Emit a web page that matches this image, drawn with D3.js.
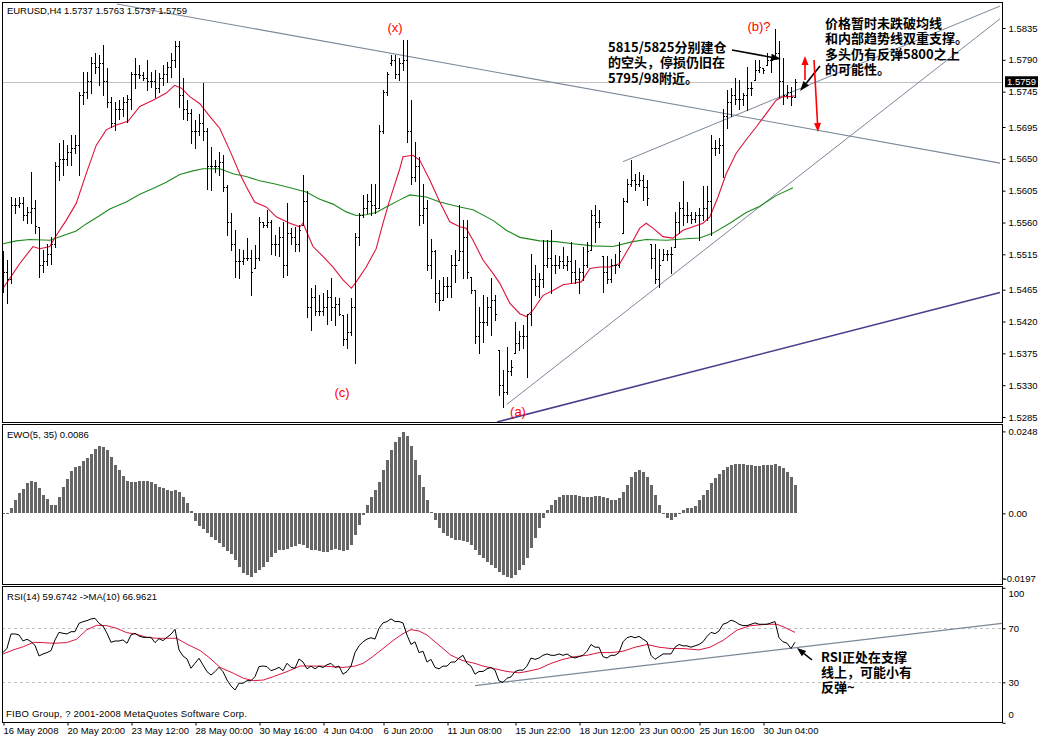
<!DOCTYPE html>
<html><head><meta charset="utf-8">
<script src="https://cdn.jsdelivr.net/npm/d3@7"></script>
<style>
body{margin:0;background:#fff}
svg{display:block}
text{font-family:"Liberation Sans",Arial,sans-serif;font-size:9.5px;fill:#000}
.cn{font-family:"Noto Sans CJK SC",sans-serif;font-weight:700;font-size:13px}
.lbl{font-size:13px;fill:#ff0000}
</style></head><body>
<svg id="c" width="1040" height="739"></svg>
<script>
// ---------- DATA ----------
const openP=[1.5500,1.5490,1.5480,1.5585,1.5585,1.5588,1.5570,1.5575,1.5580,1.5554,
1.5500,1.5505,1.5515,1.5530,1.5640,1.5650,1.5650,1.5660,1.5665,1.5670,
1.5740,1.5745,1.5760,1.5785,1.5780,1.5785,1.5760,1.5730,1.5700,1.5720,
1.5720,1.5730,1.5735,1.5770,1.5770,1.5768,1.5765,1.5760,1.5760,1.5750,
1.5765,1.5770,1.5780,1.5790,1.5810,1.5740,1.5720,1.5715,1.5690,1.5690,
1.5700,1.5690,1.5640,1.5640,1.5640,1.5645,1.5610,1.5560,1.5530,1.5505,
1.5505,1.5510,1.5510,1.5495,1.5510,1.5560,1.5556,1.5560,1.5530,1.5530,
1.5540,1.5500,1.5545,1.5540,1.5530,1.5556,1.5590,1.5440,1.5455,1.5435,
1.5435,1.5440,1.5455,1.5440,1.5445,1.5429,1.5395,1.5405,1.5440,1.5540,
1.5570,1.5580,1.5590,1.5585,1.5580,1.5690,1.5745,1.5785,1.5790,1.5770,
1.5785,1.5790,1.5690,1.5625,1.5640,1.5570,1.5580,1.5500,1.5520,1.5460,
1.5450,1.5470,1.5470,1.5500,1.5507,1.5520,1.5540,1.5483,1.5464,1.5400,
1.5420,1.5420,1.5440,1.5450,1.5380,1.5330,1.5320,1.5350,1.5375,1.5390,
1.5400,1.5400,1.5430,1.5480,1.5470,1.5480,1.5500,1.5510,1.5500,1.5500,
1.5505,1.5500,1.5505,1.5490,1.5480,1.5490,1.5500,1.5521,1.5570,1.5560,
1.5512,1.5490,1.5480,1.5500,1.5500,1.5545,1.5590,1.5615,1.5620,1.5615,
1.5620,1.5610,1.5530,1.5510,1.5480,1.5507,1.5515,1.5515,1.5526,1.5560,
1.5580,1.5570,1.5570,1.5565,1.5570,1.5570,1.5580,1.5590,1.5665,1.5665,
1.5670,1.5710,1.5730,1.5740,1.5735,1.5735,1.5740,1.5750,1.5761,1.5775,
1.5778,1.5783,1.5790,1.5792,1.5800,1.5760,1.5740,1.5745,1.5737];
const highP=[1.5519,1.5507,1.5596,1.5594,1.5596,1.5596,1.5582,1.5632,1.5592,1.5554,
1.5521,1.5530,1.5540,1.5646,1.5672,1.5677,1.5670,1.5684,1.5684,1.5745,
1.5773,1.5773,1.5794,1.5799,1.5797,1.5811,1.5778,1.5738,1.5731,1.5733,
1.5738,1.5740,1.5773,1.5792,1.5783,1.5773,1.5790,1.5773,1.5776,1.5771,
1.5783,1.5787,1.5799,1.5816,1.5816,1.5764,1.5733,1.5721,1.5705,1.5714,
1.5757,1.5693,1.5667,1.5648,1.5660,1.5655,1.5613,1.5573,1.5549,1.5523,
1.5521,1.5538,1.5521,1.5528,1.5568,1.5561,1.5578,1.5563,1.5542,1.5554,
1.5561,1.5587,1.5552,1.5554,1.5556,1.5627,1.5604,1.5467,1.5472,1.5457,
1.5460,1.5464,1.5481,1.5455,1.5453,1.5429,1.5431,1.5453,1.5545,1.5573,
1.5599,1.5601,1.5615,1.5615,1.5698,1.5747,1.5773,1.5797,1.5797,1.5792,
1.5818,1.5818,1.5733,1.5674,1.5653,1.5615,1.5592,1.5537,1.5521,1.5479,
1.5483,1.5483,1.5514,1.5521,1.5585,1.5563,1.5563,1.5483,1.5464,1.5441,
1.5457,1.5455,1.5481,1.5457,1.5380,1.5351,1.5384,1.5365,1.5420,1.5406,
1.5415,1.5431,1.5516,1.5500,1.5488,1.5535,1.5535,1.5549,1.5514,1.5512,
1.5526,1.5512,1.5533,1.5507,1.5495,1.5526,1.5533,1.5578,1.5585,1.5578,
1.5512,1.5512,1.5509,1.5516,1.5533,1.5594,1.5622,1.5648,1.5629,1.5632,
1.5627,1.5620,1.5530,1.5530,1.5523,1.5523,1.5521,1.5526,1.5575,1.5589,
1.5618,1.5589,1.5575,1.5575,1.5580,1.5611,1.5611,1.5684,1.5677,1.5679,
1.5721,1.5747,1.5750,1.5764,1.5761,1.5743,1.5780,1.5759,1.5790,1.5790,
1.5778,1.5799,1.5794,1.5834,1.5816,1.5792,1.5754,1.5752,1.5763];
const lowP=[1.5462,1.5446,1.5474,1.5573,1.5582,1.5563,1.5559,1.5559,1.5545,1.5483,
1.5490,1.5500,1.5502,1.5526,1.5620,1.5627,1.5641,1.5641,1.5658,1.5627,
1.5728,1.5736,1.5743,1.5771,1.5754,1.5740,1.5724,1.5695,1.5691,1.5707,
1.5710,1.5702,1.5721,1.5750,1.5764,1.5761,1.5747,1.5752,1.5738,1.5745,
1.5754,1.5759,1.5766,1.5780,1.5724,1.5707,1.5705,1.5672,1.5665,1.5684,
1.5677,1.5608,1.5606,1.5632,1.5627,1.5604,1.5542,1.5521,1.5483,1.5481,
1.5502,1.5507,1.5457,1.5495,1.5507,1.5554,1.5554,1.5516,1.5514,1.5512,
1.5483,1.5486,1.5530,1.5519,1.5519,1.5556,1.5427,1.5408,1.5429,1.5429,
1.5429,1.5417,1.5422,1.5415,1.5429,1.5387,1.5382,1.5401,1.5361,1.5528,
1.5568,1.5573,1.5570,1.5573,1.5580,1.5686,1.5740,1.5783,1.5764,1.5761,
1.5776,1.5674,1.5615,1.5618,1.5556,1.5559,1.5493,1.5481,1.5448,1.5436,
1.5450,1.5455,1.5455,1.5476,1.5507,1.5481,1.5481,1.5460,1.5389,1.5375,
1.5391,1.5415,1.5401,1.5422,1.5316,1.5299,1.5318,1.5344,1.5375,1.5380,
1.5382,1.5342,1.5415,1.5457,1.5455,1.5469,1.5497,1.5460,1.5488,1.5495,
1.5495,1.5493,1.5474,1.5474,1.5460,1.5479,1.5497,1.5521,1.5533,1.5554,
1.5462,1.5474,1.5476,1.5488,1.5497,1.5545,1.5589,1.5611,1.5606,1.5611,
1.5592,1.5585,1.5495,1.5474,1.5469,1.5507,1.5507,1.5488,1.5526,1.5545,
1.5556,1.5561,1.5559,1.5561,1.5535,1.5563,1.5563,1.5542,1.5655,1.5658,
1.5625,1.5693,1.5710,1.5728,1.5721,1.5726,1.5719,1.5740,1.5761,1.5773,
1.5771,1.5783,1.5773,1.5792,1.5738,1.5728,1.5736,1.5726,1.5737];
const closeP=[1.5490,1.5480,1.5585,1.5585,1.5588,1.5570,1.5575,1.5580,1.5555,1.5500,
1.5505,1.5515,1.5530,1.5640,1.5650,1.5650,1.5660,1.5665,1.5670,1.5740,
1.5745,1.5760,1.5785,1.5780,1.5785,1.5760,1.5730,1.5700,1.5720,1.5720,
1.5730,1.5735,1.5770,1.5770,1.5768,1.5765,1.5760,1.5760,1.5750,1.5765,
1.5770,1.5780,1.5790,1.5810,1.5740,1.5720,1.5715,1.5690,1.5690,1.5700,
1.5690,1.5640,1.5640,1.5640,1.5645,1.5610,1.5560,1.5530,1.5505,1.5505,
1.5510,1.5510,1.5490,1.5510,1.5560,1.5556,1.5560,1.5530,1.5530,1.5540,
1.5500,1.5545,1.5540,1.5530,1.5550,1.5590,1.5440,1.5455,1.5435,1.5435,
1.5440,1.5455,1.5440,1.5445,1.5430,1.5395,1.5405,1.5440,1.5540,1.5570,
1.5580,1.5590,1.5585,1.5580,1.5690,1.5745,1.5770,1.5790,1.5770,1.5785,
1.5790,1.5690,1.5625,1.5640,1.5570,1.5580,1.5500,1.5520,1.5460,1.5450,
1.5470,1.5470,1.5500,1.5500,1.5520,1.5540,1.5490,1.5465,1.5400,1.5420,
1.5420,1.5440,1.5450,1.5430,1.5330,1.5320,1.5350,1.5355,1.5390,1.5400,
1.5400,1.5430,1.5480,1.5470,1.5480,1.5500,1.5510,1.5500,1.5500,1.5505,
1.5500,1.5505,1.5490,1.5480,1.5490,1.5500,1.5520,1.5570,1.5560,1.5560,
1.5490,1.5480,1.5500,1.5500,1.5520,1.5590,1.5615,1.5620,1.5615,1.5620,
1.5610,1.5595,1.5510,1.5480,1.5500,1.5515,1.5515,1.5515,1.5560,1.5580,
1.5570,1.5570,1.5565,1.5570,1.5570,1.5580,1.5590,1.5665,1.5665,1.5670,
1.5710,1.5730,1.5740,1.5735,1.5735,1.5740,1.5750,1.5750,1.5775,1.5780,
1.5775,1.5790,1.5790,1.5800,1.5760,1.5740,1.5745,1.5737,1.5759];
// moving averages on price: [bar index, value]
const maFast=[[0,1.5467],[1.7,1.5481],[4.2,1.5502],[7.5,1.5526],[9.2,1.5523],[11.7,1.5526],[12.9,1.5538],[15.8,1.5563],[18.3,1.5587],[20.8,1.5629],[23.3,1.5669],[25.8,1.5691],[28.3,1.5698],[31.25,1.5703],[34.2,1.5724],[37.5,1.5733],[40.8,1.5743],[42.9,1.5754],[44.6,1.5750],[46.7,1.5738],[49.2,1.5728],[51.7,1.5710],[54.2,1.5693],[56.7,1.5662],[59.2,1.5629],[60.8,1.5611],[62.9,1.5589],[65.8,1.5582],[68.3,1.5568],[71.7,1.5559],[74.2,1.5554],[75,1.5559],[77.5,1.5526],[80,1.5512],[82.5,1.5497],[85,1.5479],[87.1,1.5467],[88.3,1.5476],[90.8,1.5497],[93.3,1.5523],[95,1.5559],[96.7,1.5592],[99.2,1.5636],[100,1.5653],[102.5,1.5655],[104.2,1.5648],[106.7,1.5620],[109.2,1.5589],[111.7,1.5561],[114.2,1.5554],[115.8,1.5552],[117.5,1.5535],[120,1.5507],[122.5,1.5488],[124.2,1.5474],[126.7,1.5446],[129.2,1.5431],[130.8,1.5427],[132.5,1.5436],[135,1.5457],[137.5,1.5464],[140,1.5472],[142.5,1.5474],[144.6,1.5476],[146.7,1.5495],[149.2,1.5497],[151.7,1.5497],[154.2,1.5502],[156.7,1.5526],[159.2,1.5552],[160.8,1.5559],[162.5,1.5552],[165,1.5540],[167.5,1.5538],[170,1.5549],[172.5,1.5554],[175,1.5559],[176.7,1.5568],[178.75,1.5596],[180.8,1.5629],[183.3,1.5658],[185.8,1.5677],[188.3,1.5695],[190.8,1.5714],[193.3,1.5733],[195,1.5738],[196.7,1.5738],[197.9,1.5739]];
const maSlow=[[0,1.5530],[3.3,1.5534],[6.7,1.5536],[11.7,1.5535],[14.2,1.5540],[18.3,1.5548],[20.8,1.5558],[24.2,1.5570],[26.7,1.5579],[30.8,1.5589],[34.2,1.5600],[37.5,1.5608],[40.8,1.5617],[44.2,1.5628],[47.5,1.5633],[50,1.5636],[54.2,1.5636],[57.5,1.5629],[60.8,1.5625],[64.2,1.5619],[68.3,1.5614],[72.5,1.5608],[75.8,1.5603],[79.2,1.5593],[82.5,1.5586],[85.8,1.5575],[88.3,1.5570],[90.8,1.5571],[93.3,1.5574],[95.8,1.5582],[99.2,1.5592],[101.7,1.5599],[105.8,1.5596],[109.2,1.5589],[114.2,1.5582],[117.5,1.5578],[122.5,1.5563],[125.8,1.5549],[129.2,1.5539],[134.2,1.5534],[138.3,1.5533],[142.5,1.5530],[147.5,1.5527],[152.5,1.5526],[157.5,1.5533],[160.8,1.5536],[165.8,1.5535],[170.8,1.5537],[174.2,1.5538],[177.5,1.5545],[181.7,1.5559],[185.8,1.5574],[189.2,1.5583],[193.3,1.5598],[197.5,1.5609]];
const ewo=[0.0001,0.0002,0.0015,0.0040,0.0063,0.0074,0.0091,0.0098,0.0094,0.0077,
0.0056,0.0043,0.0025,0.0025,0.0049,0.0080,0.0104,0.0128,0.0140,0.0144,
0.0157,0.0168,0.0180,0.0195,0.0204,0.0202,0.0192,0.0172,0.0146,0.0131,
0.0114,0.0099,0.0094,0.0096,0.0098,0.0099,0.0099,0.0096,0.0089,0.0079,
0.0077,0.0071,0.0068,0.0070,0.0066,0.0050,0.0032,0.0008,-0.0022,-0.0038,
-0.0048,-0.0059,-0.0071,-0.0081,-0.0089,-0.0101,-0.0113,-0.0124,-0.0141,-0.0164,
-0.0182,-0.0188,-0.0192,-0.0182,-0.0172,-0.0161,-0.0146,-0.0131,-0.0119,-0.0111,
-0.0111,-0.0109,-0.0103,-0.0099,-0.0093,-0.0097,-0.0106,-0.0112,-0.0112,-0.0115,
-0.0118,-0.0118,-0.0112,-0.0109,-0.0112,-0.0115,-0.0112,-0.0097,-0.0066,-0.0035,
-0.0005,0.0025,0.0049,0.0070,0.0094,0.0131,0.0161,0.0191,0.0215,0.0230,
0.0246,0.0233,0.0203,0.0161,0.0115,0.0079,0.0040,0.0004,-0.0020,-0.0044,
-0.0060,-0.0069,-0.0075,-0.0081,-0.0081,-0.0084,-0.0087,-0.0096,-0.0112,-0.0127,
-0.0136,-0.0148,-0.0157,-0.0166,-0.0178,-0.0187,-0.0193,-0.0196,-0.0187,-0.0172,
-0.0157,-0.0136,-0.0106,-0.0075,-0.0044,-0.0014,0.0010,0.0025,0.0040,0.0049,
0.0055,0.0055,0.0055,0.0055,0.0052,0.0049,0.0049,0.0049,0.0052,0.0052,
0.0049,0.0046,0.0040,0.0040,0.0046,0.0064,0.0085,0.0110,0.0125,0.0131,
0.0125,0.0110,0.0085,0.0055,0.0025,0.0001,-0.0015,-0.0021,-0.0012,0.0001,
0.0010,0.0016,0.0016,0.0022,0.0040,0.0055,0.0070,0.0091,0.0106,0.0118,
0.0131,0.0140,0.0146,0.0149,0.0149,0.0149,0.0146,0.0146,0.0143,0.0143,
0.0146,0.0146,0.0146,0.0149,0.0143,0.0137,0.0125,0.0110,0.0086];
const rsi=[52.0,55.2,65.8,65.8,65.1,60.6,61.9,60.1,57.4,49.5,
51.0,52.0,53.5,61.4,67.0,66.3,65.8,67.5,67.5,73.7,
74.9,75.7,76.9,77.4,73.7,71.7,66.3,59.6,60.6,60.6,
61.4,58.9,65.1,66.3,64.3,63.3,63.3,63.3,59.4,62.3,
60.9,63.3,65.6,69.3,54.0,49.5,47.3,40.4,44.1,47.8,
42.8,37.9,35.4,37.9,41.1,37.9,31.7,27.3,24.3,29.3,
29.3,31.2,31.2,34.2,41.6,42.1,41.6,38.6,39.6,41.1,
38.6,44.1,41.1,40.4,47.3,45,40,42,40,42,
41,43,44,41,42,36,38,42,52,57,
60,62,63,62,70,74,75,77,75,75,
74,65,58,60,52,53,45,47,41,40,
42,42,45,45,48,50,44,42,36,38,
38,40,41,39,31,30,33,34,38,39,
39,42,48,47,48,50,51,50,50,51,
50,51,49,48,49,50,53,58,56,56,
49,48,50,50,52,60,63,64,63,64,
62,60,50,47,49,51,51,51,56,58,
57,57,56,57,58,60,64,67,66,68,
73,74,76,75,73,72,72,73,74,73,
73,73,74,75,63,60,59,55,59.67];
const rsiMa=[[0,51.0],[2.6,54.0],[5.1,56.4],[7.6,59.6],[10.1,59.4],[12.6,58.9],[15.9,59.4],[18.4,61.9],[20.9,68.8],[23.4,72.2],[25.9,72.0],[28.4,70.0],[30.9,66.8],[33.4,65.6],[35.9,63.3],[38.4,62.6],[40.9,62.6],[43.4,62.6],[45.9,58.4],[49.3,53.5],[51.75,47.8],[54.25,41.1],[57.6,36.7],[60.1,33.0],[62.6,31.2],[65.1,31.7],[67.6,34.2],[71,37.9],[74.3,42.1],[80,42],[85,41],[88,42],[90,44],[92,48],[95,55],[98,62],[100,66],[102,69],[104,68],[106,65],[108,60],[110,55],[112,50],[115,46],[118,44],[120,42],[123,40],[126,38],[129,37],[131,38],[134,40],[137,44],[140,47],[143,49],[146,50],[149,52],[152,52],[155,53],[158,56],[161,58],[164,56],[167,55],[170,55],[174,54],[176.75,56],[180,61],[183.5,68.7],[186.75,71.9],[191,73],[193.5,73],[195,71.2],[198,66.96]];
// trend lines [bar index, value]
const lineResist=[[28.5,1.5869],[249.25,1.5644]];
const lineChannel=[[155,1.5646],[249.25,1.5866]];
const lineSteep=[[126,1.5303],[249.25,1.5848]];
const lineBase=[[123.5,1.5278],[249.25,1.5461]];
const lineRsi=[[118,27.6],[249.75,73.7]];
// axis labels
const priceTicks=[1.5835,1.5790,1.5745,1.5695,1.5650,1.5605,1.5560,1.5515,1.5465,1.5420,1.5375,1.5330,1.5285];
const ewoTicks=[0.0248,0,-0.0197];
const rsiTicks=[100,70,30,0];
const timeTickIdx=[0,16,32,48,64,80,95,111,128,144,159,174,190];
const timeTickLabels=["16 May 2008","20 May 20:00","23 May 12:00","28 May 00:00","30 May 16:00","4 Jun 04:00","6 Jun 20:00","11 Jun 08:00","15 Jun 22:00","18 Jun 12:00","23 Jun 00:00","25 Jun 16:00","30 Jun 04:00"];
const lastPrice=1.5759;

// ---------- LAYOUT ----------
const svg=d3.select('#c');
const L=2,R=1002;
const P={main:[2,422],ewo:[424,584],rsi:[586,722]};
const x=d3.scaleLinear().domain([0,249.25]).range([3,1000]);
const yP=d3.scaleLinear().domain([1.5285,1.5835]).range([417,28]);
const yE=d3.scaleLinear().domain([-0.0197,0.0248]).range([578.4,431.4]);
const yR=d3.scaleLinear().domain([0,100]).range([722.8,587.8]);

const defs=svg.append('defs');
Object.entries(P).forEach(([k,[t,b]])=>{
  defs.append('clipPath').attr('id','clip-'+k).append('rect').attr('x',L).attr('y',t).attr('width',R-L).attr('height',b-t);
});
const gMain=svg.append('g').attr('clip-path','url(#clip-main)');
const gEwo=svg.append('g').attr('clip-path','url(#clip-ewo)');
const gRsi=svg.append('g').attr('clip-path','url(#clip-rsi)');

// current price line
gMain.append('line').attr('x1',L).attr('x2',R).attr('y1',Math.round(yP(lastPrice))+0.5).attr('y2',Math.round(yP(lastPrice))+0.5).attr('stroke','#c0c0c0');

// trend lines
const lnP=d3.line().x(d=>x(d[0])).y(d=>yP(d[1]));
gMain.append('path').attr('d',lnP(lineResist)).attr('stroke','#7a8899').attr('fill','none').attr('stroke-width',1.1);
gMain.append('path').attr('d',lnP(lineChannel)).attr('stroke','#7a8899').attr('fill','none').attr('stroke-width',1);
gMain.append('path').attr('d',lnP(lineSteep)).attr('stroke','#7a8899').attr('fill','none').attr('stroke-width',1);
gMain.append('path').attr('d',lnP(lineBase)).attr('stroke','#483d8b').attr('fill','none').attr('stroke-width',1.6);

// moving averages
gMain.append('path').attr('d',lnP(maSlow)).attr('stroke','#1e8a1e').attr('fill','none').attr('stroke-width',1.1);
gMain.append('path').attr('d',lnP(maFast)).attr('stroke','#dc143c').attr('fill','none').attr('stroke-width',1.1);

// OHLC bars
const bars=gMain.append('g').attr('fill','#000');
closeP.forEach((c,i)=>{
  const xi=Math.round(x(i));
  const yh=Math.round(yP(highP[i])), yl=Math.round(yP(lowP[i]));
  bars.append('rect').attr('x',xi).attr('y',yh).attr('width',1).attr('height',Math.max(1,yl-yh+1));
  bars.append('rect').attr('x',xi-1).attr('y',Math.round(yP(openP[i]))).attr('width',1).attr('height',1);
  bars.append('rect').attr('x',xi+1).attr('y',Math.round(yP(c))).attr('width',1).attr('height',1);
});

// EWO histogram
const y0=Math.round(yE(0));
gEwo.append('g').attr('fill','#666').selectAll('rect').data(ewo).join('rect')
  .attr('x',(d,i)=>Math.round(x(i))-1).attr('width',3)
  .attr('y',d=>d>=0?Math.round(yE(d)):y0)
  .attr('height',d=>Math.max(1,Math.abs(Math.round(yE(d))-y0)));

// RSI
[70,30].forEach(v=>{
  gRsi.append('line').attr('x1',L).attr('x2',R).attr('y1',Math.round(yR(v))+0.5).attr('y2',Math.round(yR(v))+0.5)
    .attr('stroke','#c0c0c0').attr('stroke-dasharray','3,3');
});
const lnR=d3.line().x(d=>x(d[0])).y(d=>yR(d[1]));
gRsi.append('path').attr('d',lnR(lineRsi)).attr('stroke','#7a8899').attr('fill','none').attr('stroke-width',1.2);
gRsi.append('path').attr('d',lnR(rsiMa)).attr('stroke','#dc143c').attr('fill','none').attr('stroke-width',1);
gRsi.append('path').attr('d',d3.line().x((d,i)=>x(i)).y(d=>yR(d))(rsi)).attr('stroke','#000').attr('fill','none').attr('stroke-width',1);

// panel borders
Object.values(P).forEach(([t,b])=>{
  svg.append('rect').attr('x',L+0.5).attr('y',t+0.5).attr('width',R-L).attr('height',b-t).attr('fill','none').attr('stroke','#000');
});

// axes
function styleAxis(g){g.select('.domain').remove();g.selectAll('.tick line').attr('stroke','#000');
  g.selectAll('.tick text').attr('fill','#000').style('font-family','"Liberation Sans",Arial,sans-serif').style('font-size','9.5px');}
const axP=svg.append('g').attr('transform',`translate(${R+0.5},0)`)
  .call(d3.axisRight(yP).tickValues(priceTicks).tickFormat(d3.format('.4f')).tickSize(3).tickPadding(3));
styleAxis(axP);
const axE=svg.append('g').attr('transform',`translate(${R+0.5},0)`)
  .call(d3.axisRight(yE).tickValues(ewoTicks).tickFormat(d=>d===0?'0.00':d3.format('.4f')(d)).tickSize(3).tickPadding(3));
styleAxis(axE);
axE.selectAll('.tick').filter(d=>d<0).select('text').attr('x',1).text('-0.0197');
const axR=svg.append('g').attr('transform',`translate(${R+0.5},0)`)
  .call(d3.axisRight(yR).tickValues(rsiTicks).tickFormat(d3.format('d')).tickSize(3).tickPadding(3));
styleAxis(axR);
axR.selectAll('.tick').filter(d=>d===100).select('text').attr('y',6);
axR.selectAll('.tick').filter(d=>d===0).select('text').attr('y',-8);
const axX=svg.append('g').attr('transform',`translate(0,${P.rsi[1]+0.5})`)
  .call(d3.axisBottom(x).tickValues(timeTickIdx).tickFormat((d,i)=>timeTickLabels[i]).tickSize(3));
styleAxis(axX);
axX.selectAll('.tick line').attr('transform','translate(0.5,0)');
axX.selectAll('.tick text').attr('text-anchor','start').attr('x',0).attr('y',5).attr('dy','0.71em');

// last price box
const yl=yP(lastPrice);
svg.append('rect').attr('x',1005).attr('y',yl-5.5).attr('width',33).attr('height',11).attr('fill','#000');
svg.append('text').attr('x',1007).attr('y',yl).attr('dy','0.35em').style('fill','#fff').text(d3.format('.4f')(lastPrice));

// headers
svg.append('text').attr('x',7).attr('y',11).attr('dy','0.35em').attr('textLength',180).attr('lengthAdjust','spacing')
  .text(`EURUSD,H4 ${openP[198].toFixed(4)} ${highP[198].toFixed(4)} ${lowP[198].toFixed(4)} ${closeP[198].toFixed(4)}`);
svg.append('text').attr('x',7).attr('y',435).attr('dy','0.35em').text(`EWO(5, 35) ${ewo[198].toFixed(4)}`);
svg.append('text').attr('x',7).attr('y',597).attr('dy','0.35em').attr('textLength',150).attr('lengthAdjust','spacing')
  .text(`RSI(14) 59.6742 ->MA(10) 66.9621`);
svg.append('text').attr('x',6).attr('y',714).attr('dy','0.35em').attr('textLength',241).attr('lengthAdjust','spacing')
  .text('FIBO Group, ? 2001-2008 MetaQuotes Software Corp.');

// wave labels
[["(x)",395,27],["(b)?",759,26],["(c)",342,392],["(a)",518,411]].forEach(([t,xx,yy])=>{
  svg.append('text').attr('class','lbl').attr('x',xx).attr('y',yy).attr('dy','0.35em').attr('text-anchor','middle').text(t);
});

// annotation texts (one text block each)
function block(lines,x0,y0,step){
  const t=svg.append('text').attr('class','cn').attr('x',x0).attr('y',y0);
  lines.forEach((s,i)=>t.append('tspan').attr('x',x0).attr('dy',i===0?'0.36em':step).text(s));
}
block(["5815/5825分别建仓","的空头，停损仍旧在","5795/98附近。"],608,47,15.5);
block(["价格暂时未跌破均线","和内部趋势线双重支撑。","多头仍有反弹5800之上","的可能性。"],825,23,15.5);
block(["RSI正处在支撑","线上，可能小有","反弹~"],821,657,15);

// arrows
function arrow(x1,y1,x2,y2,col,w,hl,hw){
  const a=Math.atan2(y2-y1,x2-x1), c=Math.cos(a), s=Math.sin(a);
  const bx=x2-hl*c, by=y2-hl*s;
  svg.append('line').attr('x1',x1).attr('y1',y1).attr('x2',bx).attr('y2',by).attr('stroke',col).attr('stroke-width',w);
  svg.append('path').attr('d',`M${x2},${y2}L${bx-hw*s},${by+hw*c}L${bx+hw*s},${by-hw*c}Z`).attr('fill',col);
}
arrow(732,50,781,59,'#000',1.6,10,3.5);
arrow(820,66,800,91,'#000',1.6,10,3.5);
arrow(805,80,805,56,'#f00',1.6,9,3.5);
arrow(814,60,818,132,'#f00',1.6,9,3.5);
arrow(812,660,797,648,'#000',1.6,9,3.5);
</script></body></html>
